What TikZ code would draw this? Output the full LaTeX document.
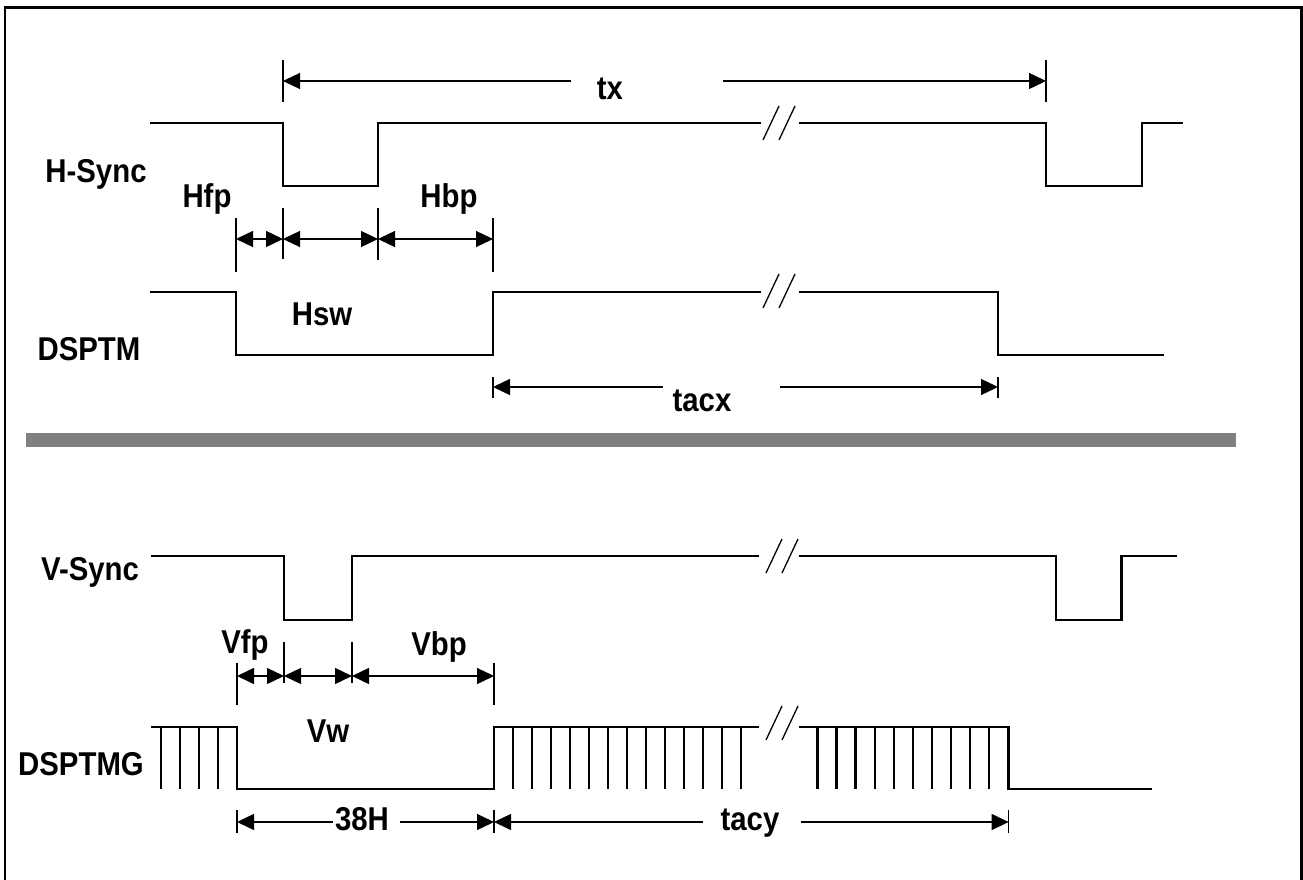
\documentclass[tikz,border=0pt]{standalone}
\usepackage{fontspec}
\newfontfamily\lblfont{Liberation Sans}[FakeStretch=0.89]
\usetikzlibrary{arrows.meta}
\definecolor{barg}{RGB}{128,128,128}
\tikzset{
  sig/.style={line width=2.8pt, line join=miter, line cap=rect},
  thinl/.style={line width=1.4pt},
  tk/.style={line width=1.1pt},
  pulse/.style={line width=2.4pt},
  dimr/.style={thinl, -{Triangle[length=17pt,width=16pt]}},
  diml/.style={thinl, {Triangle[length=17pt,width=16pt]}-},
  dimb/.style={thinl, {Triangle[length=17pt,width=16pt]}-{Triangle[length=17pt,width=16pt]}},
  lbl/.style={font=\lblfont\bfseries\fontsize{33}{36}\selectfont, inner sep=0pt, anchor=base},
  brkmark/.pic={\draw[line width=1.3pt] (-8,17) -- (8,-17) (8,17) -- (24,-17);}
}
\begin{document}
\begin{tikzpicture}[x=1pt,y=-1pt]
\useasboundingbox (0,0) rectangle (1303,880);
% frame
\draw[line width=2.5pt] (5,895) -- (5,7.5) -- (1301.5,7.5) -- (1301.5,895);
% separator bar
\fill[barg] (26,433) rectangle (1236,447);

% ---------- labels ----------
\node[lbl] (hsync) at (96,182) {H-Sync};
\node[lbl] (dsptm) at (89,360) {DSPTM};
\node[lbl] (vsync) at (90,580) {V-Sync};
\node[lbl] (dsptmg) at (81,775) {DSPTMG};
\node[lbl] (hfp) at (207,207) {Hfp};
\node[lbl] (hbp) at (449,207) {Hbp};
\node[lbl] (hsw) at (322,325) {Hsw};
\node[lbl] (tx) at (610,100) {tx};
\node[lbl] (tacx) at (702,411) {tacx};
\node[lbl] (vfp) at (245,653) {Vfp};
\node[lbl] (vbp) at (439,655) {Vbp};
\node[lbl] (vw) at (328,742) {Vw};
\node[lbl] (h38) at (362,830) {38H};
\node[lbl] (tacy) at (750,830) {tacy};

% ---------- H-Sync ----------
\draw[sig] (151,123) -- (283,123) -- (283,186) -- (378,186) -- (378,123) -- (760,123);
\draw[sig] (800,123) -- (1046,123) -- (1046,186) -- (1142,186) -- (1142,123) -- (1182,123);
\pic at (771,123) {brkmark};

% tx dimension
\coordinate (txa) at (283,81);
\coordinate (txb) at (1046,81);
\draw[tk] (283,60) -- (283,102);
\draw[tk] (1046,60) -- (1046,102);
\draw[diml] (txa) -- (571,81);
\draw[dimr] (723,81) -- (txb);

% H dimension row
\coordinate (h1) at (236,239);
\coordinate (h2) at (283,239);
\coordinate (h3) at (378,239);
\coordinate (h4) at (493,239);
\draw[tk] (236,218) -- (236,272);
\draw[tk] (283,208) -- (283,259);
\draw[tk] (378,208) -- (378,260);
\draw[tk] (493,218) -- (493,272);
\draw[dimb] (h1) -- (h2);
\draw[dimb] (h2) -- (h3);
\draw[dimb] (h3) -- (h4);

% ---------- DSPTM ----------
\draw[sig] (151,292) -- (236,292) -- (236,355) -- (493,355) -- (493,292) -- (760,292);
\draw[sig] (800,292) -- (998,292) -- (998,355) -- (1163,355);
\pic at (771,291) {brkmark};

% tacx dimension
\coordinate (tca) at (493,387);
\coordinate (tcb) at (998,387);
\draw[tk] (493,377) -- (493,398);
\draw[tk] (998,377) -- (998,398);
\draw[diml] (tca) -- (663,387);
\draw[dimr] (780,387) -- (tcb);

% ---------- V-Sync ----------
\draw[sig] (152,556) -- (284,556) -- (284,620) -- (352,620) -- (352,556) -- (758,556);
\draw[sig] (800,556) -- (1056,556) -- (1056,620) -- (1121.5,620) -- (1121.5,556) -- (1176,556);
\pic at (774,556) {brkmark};

% V dimension row
\coordinate (v1) at (237,676);
\coordinate (v2) at (284,676);
\coordinate (v3) at (352,676);
\coordinate (v4) at (494,676);
\draw[tk] (237,663) -- (237,705);
\draw[tk] (284,642) -- (284,683);
\draw[tk] (352,642) -- (352,683);
\draw[tk] (494,663) -- (494,705);
\draw[dimb] (v1) -- (v2);
\draw[dimb] (v2) -- (v3);
\draw[dimb] (v3) -- (v4);

% ---------- DSPTMG ----------
\draw[sig] (152,727) -- (237,727) -- (237,789) -- (494,789) -- (494,727) -- (758,727);
\draw[sig] (800,727) -- (1008.6,727) -- (1008.6,789) -- (1151,789);
\pic at (774,723) {brkmark};
\foreach \x in {161,180,199,218} \draw[pulse] (\x,727) -- (\x,789);
\foreach \k in {0,...,12} \draw[pulse] ({513+19.02*\k},727) -- ++(0,62);
\foreach \k in {0,...,9} \draw[pulse] ({817.5+19.08*\k},727) -- ++(0,62);

% 38H / tacy dimension
\coordinate (d1) at (237,822);
\coordinate (d2) at (494,822);
\coordinate (d3) at (1008.6,822);
\draw[tk] (237,810) -- (237,833);
\draw[tk] (494,810) -- (494,833);
\draw[tk] (1008.6,810) -- (1008.6,833);
\draw[diml] (d1) -- (333,822);
\draw[dimr] (400,822) -- (d2);
\draw[diml] (d2) -- (703,822);
\draw[dimr] (801,822) -- (d3);
\end{tikzpicture}
\end{document}
